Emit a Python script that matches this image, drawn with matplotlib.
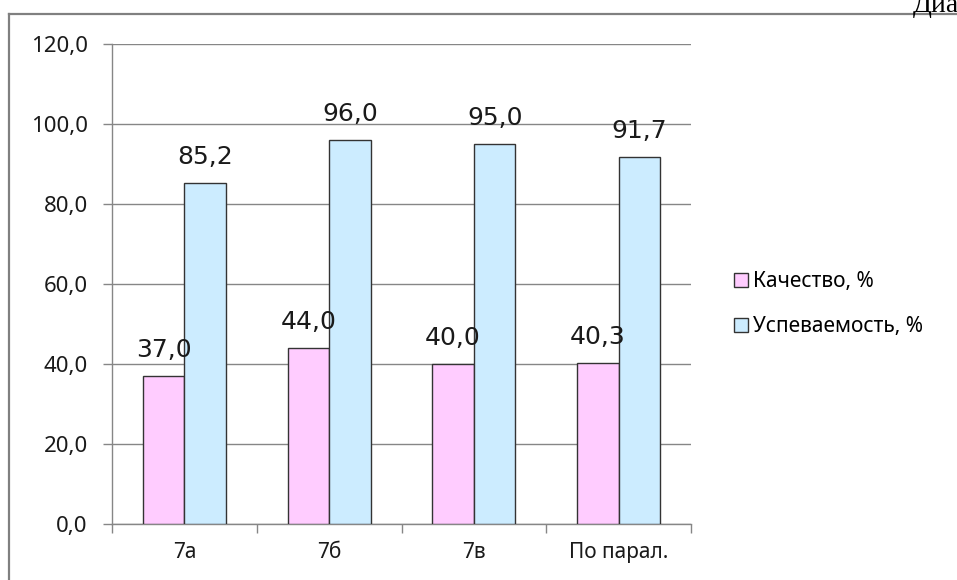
import matplotlib
matplotlib.use('Agg')
import matplotlib.pyplot as plt
from matplotlib.lines import Line2D
import numpy as np

# class results for the 7th grade parallel
CLASSES = ['7а', '7б', '7в', 'По парал.']
QUALITY = [37.0, 44.0, 40.0, 40.3]
SUCCESS = [85.2, 96.0, 95.0, 91.7]
SERIES = ['Качество, %', 'Успеваемость, %']
YTICKS = [0, 20, 40, 60, 80, 100, 120]

PINK = '#FFCCFF'
BLUE = '#CCECFF'
GRID = '#868686'
FONT = 'Noto Sans'

W, H = 957, 580
fig = plt.figure(figsize=(W / 100, H / 100), dpi=100)
fig.patch.set_facecolor('white')

# page frame around the chart object, caption runs off the page edge
fig.add_artist(Line2D([9 / W, 9 / W], [0, 1 - 14 / H], color='#808080', lw=1.6))
fig.add_artist(Line2D([9 / W, 1], [1 - 14 / H, 1 - 14 / H], color='#808080', lw=1.6))
fig.text(913 / W, 1 - 12 / H, 'Диаграмма', family='Liberation Serif', fontsize=20,
         va='baseline', ha='left', color='black')

ax = fig.add_axes([112 / W, 1 - 524 / H, (691 - 112) / W, (524 - 44) / H])

x = np.arange(len(CLASSES))
w = 0.287
b1 = ax.bar(x - w / 2, QUALITY, w, color=PINK, edgecolor='#333333', linewidth=1, zorder=3)
b2 = ax.bar(x + w / 2, SUCCESS, w, color=BLUE, edgecolor='#333333', linewidth=1, zorder=3)

for bars, vals in ((b1, QUALITY), (b2, SUCCESS)):
    for bar, v in zip(bars, vals):
        ax.annotate(f'{v:.1f}'.replace('.', ','),
                    (bar.get_x() + bar.get_width() / 2, v),
                    xytext=(0, 13.5), textcoords='offset points',
                    ha='center', va='baseline', fontsize=18,
                    family='DejaVu Sans', color='#1a1a1a', zorder=4)

ax.set_xlim(-0.5, len(CLASSES) - 0.5)
ax.set_ylim(0, 120)
ax.set_yticks(YTICKS)
ax.set_yticklabels([f'{t:.1f}'.replace('.', ',') for t in YTICKS],
                   fontsize=16, family=FONT, color='#1a1a1a')
ax.yaxis.grid(True, color=GRID, linewidth=1, zorder=0)
ax.set_axisbelow(True)

# category labels centred, tick marks on the boundaries
ax.set_xticks(x)
ax.set_xticklabels(CLASSES, fontsize=15, family=FONT, color='#1a1a1a')
ax.tick_params(axis='x', length=0, pad=13)
ax.set_xticks(np.arange(len(CLASSES) + 1) - 0.5, minor=True)
ax.tick_params(axis='x', which='minor', length=6.5, width=1, color=GRID)
ax.tick_params(axis='y', length=6.5, width=1, color=GRID, pad=11)

for s in ('top', 'right'):
    ax.spines[s].set_visible(False)
for s in ('left', 'bottom'):
    ax.spines[s].set_color(GRID)
    ax.spines[s].set_linewidth(1)

handles = [Line2D([], [], marker='s', linestyle='none', markersize=10,
                  markerfacecolor=c, markeredgecolor='#333333', markeredgewidth=1)
           for c in (PINK, BLUE)]
fig.legend(handles, SERIES, loc='upper left', bbox_to_anchor=(722 / W, 1 - 263 / H),
           frameon=False, prop={'family': FONT, 'size': 15}, handletextpad=0.1,
           handlelength=1.0, labelspacing=1.15, borderaxespad=0)

fig.savefig('out.png', dpi=100)
